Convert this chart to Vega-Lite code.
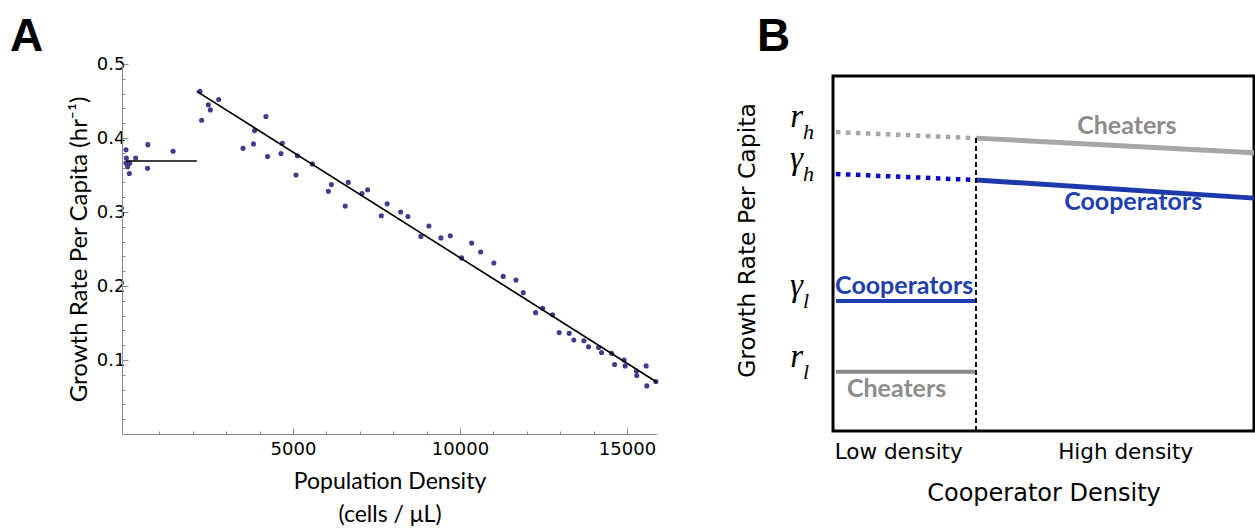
{
  "$schema": "https://vega.github.io/schema/vega-lite/v6.json",
  "background": "white",
  "padding": {"left": 10, "top": 12, "right": 0, "bottom": 0},
  "config": {"view": {"stroke": null}},
  "spacing": 72,
  "datasets": {
    "growth": [
      {"density": 0, "rate": 0.384}, {"density": 10, "rate": 0.373}, {"density": 0, "rate": 0.366},
      {"density": 50, "rate": 0.361}, {"density": 110, "rate": 0.366}, {"density": 100, "rate": 0.352},
      {"density": 290, "rate": 0.373}, {"density": 655, "rate": 0.391}, {"density": 645, "rate": 0.359},
      {"density": 1410, "rate": 0.382},
      {"density": 2215, "rate": 0.463}, {"density": 2265, "rate": 0.424}, {"density": 2465, "rate": 0.445},
      {"density": 2525, "rate": 0.438}, {"density": 2775, "rate": 0.452}, {"density": 3505, "rate": 0.386},
      {"density": 3820, "rate": 0.392}, {"density": 3850, "rate": 0.41}, {"density": 4190, "rate": 0.429},
      {"density": 4240, "rate": 0.375}, {"density": 4640, "rate": 0.379}, {"density": 4680, "rate": 0.393},
      {"density": 5130, "rate": 0.376}, {"density": 5090, "rate": 0.35}, {"density": 5580, "rate": 0.365},
      {"density": 6060, "rate": 0.328}, {"density": 6150, "rate": 0.337}, {"density": 6565, "rate": 0.308},
      {"density": 6655, "rate": 0.34}, {"density": 7065, "rate": 0.325}, {"density": 7235, "rate": 0.33},
      {"density": 7645, "rate": 0.295}, {"density": 7820, "rate": 0.311}, {"density": 8225, "rate": 0.3},
      {"density": 8440, "rate": 0.294}, {"density": 8830, "rate": 0.267}, {"density": 9070, "rate": 0.281},
      {"density": 9430, "rate": 0.265}, {"density": 9710, "rate": 0.268}, {"density": 10050, "rate": 0.238},
      {"density": 10350, "rate": 0.258}, {"density": 10620, "rate": 0.246}, {"density": 11015, "rate": 0.231},
      {"density": 11295, "rate": 0.213}, {"density": 11675, "rate": 0.208}, {"density": 11895, "rate": 0.191},
      {"density": 12265, "rate": 0.164}, {"density": 12475, "rate": 0.17}, {"density": 12775, "rate": 0.161},
      {"density": 12970, "rate": 0.137}, {"density": 13270, "rate": 0.136}, {"density": 13410, "rate": 0.127},
      {"density": 13710, "rate": 0.126}, {"density": 13850, "rate": 0.118}, {"density": 14150, "rate": 0.117},
      {"density": 14240, "rate": 0.11}, {"density": 14540, "rate": 0.109}, {"density": 14630, "rate": 0.094},
      {"density": 14915, "rate": 0.1}, {"density": 14945, "rate": 0.092}, {"density": 15285, "rate": 0.085},
      {"density": 15295, "rate": 0.079}, {"density": 15575, "rate": 0.092}, {"density": 15595, "rate": 0.065},
      {"density": 15865, "rate": 0.071}
    ],
    "fits": [
      {"segment": "low", "density": 0, "rate": 0.369},
      {"segment": "low", "density": 2120, "rate": 0.369},
      {"segment": "high", "density": 2120, "rate": 0.463},
      {"segment": "high", "density": 15900, "rate": 0.07}
    ],
    "schematic": [
      {"segment": "cheaters-dotted", "x": 0.007, "y": 0.842},
      {"segment": "cheaters-dotted", "x": 0.34, "y": 0.825},
      {"segment": "cheaters-high", "x": 0.34, "y": 0.825},
      {"segment": "cheaters-high", "x": 1, "y": 0.784},
      {"segment": "cooperators-dotted", "x": 0.007, "y": 0.724},
      {"segment": "cooperators-dotted", "x": 0.34, "y": 0.707},
      {"segment": "cooperators-high", "x": 0.34, "y": 0.707},
      {"segment": "cooperators-high", "x": 1, "y": 0.656},
      {"segment": "cooperators-low", "x": 0.007, "y": 0.366},
      {"segment": "cooperators-low", "x": 0.34, "y": 0.366},
      {"segment": "cheaters-low", "x": 0.007, "y": 0.167},
      {"segment": "cheaters-low", "x": 0.34, "y": 0.167}
    ],
    "tags": [
      {"label": "Cheaters", "kind": "Cheaters", "x": 0.698, "y": 0.859},
      {"label": "Cooperators", "kind": "Cooperators", "x": 0.713, "y": 0.644},
      {"label": "Cooperators", "kind": "Cooperators", "x": 0.169, "y": 0.409},
      {"label": "Cheaters", "kind": "Cheaters", "x": 0.151, "y": 0.117}
    ],
    "symbols": [
      {"sym": "r", "sub": "h", "level": 0.842},
      {"sym": "γ", "sub": "h", "level": 0.724},
      {"sym": "γ", "sub": "l", "level": 0.366},
      {"sym": "r", "sub": "l", "level": 0.167}
    ]
  },
  "hconcat": [
    {
      "width": 535,
      "height": 358,
      "resolve": {"axis": {"x": "independent", "y": "independent"}},
      "layer": [
        {
          "data": {"name": "growth"},
          "mark": {"type": "circle", "size": 26, "opacity": 1, "color": "#3d3d8c"},
          "encoding": {
            "x": {
              "field": "density", "type": "quantitative",
              "scale": {"domain": [-120, 15900], "nice": false, "zero": false},
              "axis": {
                "orient": "bottom",
                "title": ["Population Density", "(cells / μL)"],
                "values": [5000, 10000, 15000],
                "format": "d",
                "labelOverlap": false,
                "grid": false,
                "domainColor": "#8a8a8a",
                "tickColor": "#8a8a8a",
                "tickSize": -6,
                "labelFont": "DejaVu Sans", "labelFontSize": 18, "labelColor": "black", "labelPadding": 12,
                "labelFlush": false,
                "titleFont": "Lato", "titleFontSize": 23, "titleFontWeight": "normal", "titleColor": "black",
                "titlePadding": 12, "titleLineHeight": 33
              }
            },
            "y": {
              "field": "rate", "type": "quantitative",
              "scale": {"domain": [0, 0.5], "range": [358, -12], "nice": false, "zero": false},
              "axis": {
                "orient": "left",
                "title": "Growth Rate Per Capita (hr⁻¹)",
                "values": [0.1, 0.2, 0.3, 0.4, 0.5],
                "format": ".1f",
                "labelOverlap": false,
                "grid": false,
                "domainColor": "#8a8a8a",
                "tickColor": "#8a8a8a",
                "tickSize": -6,
                "labelFont": "DejaVu Sans", "labelFontSize": 18, "labelColor": "black", "labelPadding": 3,
                "labelFlush": false,
                "titleFont": "Lato", "titleFontSize": 24, "titleFontWeight": "normal", "titleColor": "black",
                "titlePadding": 5
              }
            }
          }
        },
        {
          "data": {"name": "fits"},
          "mark": {"type": "line", "color": "black", "strokeWidth": 1.6},
          "encoding": {
            "x": {
              "field": "density", "type": "quantitative",
              "axis": {
                "orient": "bottom", "title": null, "labels": false, "domain": false, "grid": false,
                "values": [1000, 2000, 3000, 4000, 6000, 7000, 8000, 9000, 11000, 12000, 13000, 14000],
                "tickColor": "#8a8a8a", "tickSize": -3
              }
            },
            "y": {
              "field": "rate", "type": "quantitative",
              "axis": {
                "orient": "left", "title": null, "labels": false, "domain": false, "grid": false,
                "values": [0.02, 0.04, 0.06, 0.08, 0.12, 0.14, 0.16, 0.18, 0.22, 0.24, 0.26, 0.28, 0.32, 0.34, 0.36, 0.38, 0.42, 0.44, 0.46, 0.48],
                "tickColor": "#8a8a8a", "tickSize": -3
              }
            },
            "detail": {"field": "segment"}
          }
        },
        {
          "data": {"values": [{"panel": "A"}]},
          "mark": {"type": "text", "font": "Liberation Sans", "fontWeight": "bold", "fontSize": 46, "align": "left", "baseline": "alphabetic", "dx": -112, "dy": -13, "color": "black"},
          "encoding": {
            "x": {"datum": -120, "type": "quantitative", "axis": null},
            "y": {"datum": 0.5, "type": "quantitative", "axis": null},
            "text": {"field": "panel"}
          }
        }
      ]
    },
    {
      "width": 421,
      "height": 355,
      "view": {"stroke": "black", "strokeWidth": 3},
      "data": {"name": "schematic"},
      "layer": [
        {
          "transform": [{"filter": "datum.segment === 'cheaters-dotted'"}],
          "mark": {"type": "line", "color": "#a6a6a6", "strokeWidth": 4.5, "strokeDash": [4.5, 5.5], "strokeCap": "butt"},
          "encoding": {
            "x": {
              "field": "x", "type": "quantitative",
              "scale": {"domain": [0, 1], "nice": false, "zero": false},
              "axis": {
                "title": "Cooperator Density",
                "values": [0.155, 0.694],
                "labelExpr": "datum.value < 0.5 ? 'Low density' : 'High density'",
                "labelOverlap": false,
                "domain": false, "ticks": false, "grid": false,
                "labelFont": "DejaVu Sans", "labelFontSize": 21.5, "labelColor": "black", "labelPadding": 10,
                "labelFlush": false,
                "titleFont": "DejaVu Sans", "titleFontSize": 24, "titleFontWeight": "normal", "titleColor": "black",
                "titlePadding": 19
              }
            },
            "y": {
              "field": "y", "type": "quantitative",
              "scale": {"domain": [0, 1], "nice": false, "zero": false},
              "axis": {
                "title": "Growth Rate Per Capita",
                "domain": false, "ticks": false, "labels": false, "grid": false,
                "titleFont": "DejaVu Sans", "titleFontSize": 23.5, "titleFontWeight": "normal", "titleColor": "black",
                "titlePadding": 74, "titleY": 164
              }
            }
          }
        },
        {
          "transform": [{"filter": "datum.segment === 'cooperators-dotted'"}],
          "mark": {"type": "line", "color": "#0a0ac8", "strokeWidth": 4.5, "strokeDash": [4.5, 5.5], "strokeCap": "butt"},
          "encoding": {"x": {"field": "x", "type": "quantitative"}, "y": {"field": "y", "type": "quantitative"}}
        },
        {
          "transform": [{"filter": "datum.segment === 'cheaters-high'"}],
          "mark": {"type": "line", "color": "#a6a6a6", "strokeWidth": 5},
          "encoding": {"x": {"field": "x", "type": "quantitative"}, "y": {"field": "y", "type": "quantitative"}}
        },
        {
          "transform": [{"filter": "datum.segment === 'cooperators-high'"}],
          "mark": {"type": "line", "color": "#1c38aa", "strokeWidth": 5},
          "encoding": {"x": {"field": "x", "type": "quantitative"}, "y": {"field": "y", "type": "quantitative"}}
        },
        {
          "transform": [{"filter": "datum.segment === 'cooperators-low'"}],
          "mark": {"type": "line", "color": "#1f3fae", "strokeWidth": 4},
          "encoding": {"x": {"field": "x", "type": "quantitative"}, "y": {"field": "y", "type": "quantitative"}}
        },
        {
          "transform": [{"filter": "datum.segment === 'cheaters-low'"}],
          "mark": {"type": "line", "color": "#8a8a8a", "strokeWidth": 4},
          "encoding": {"x": {"field": "x", "type": "quantitative"}, "y": {"field": "y", "type": "quantitative"}}
        },
        {
          "mark": {"type": "rule", "color": "black", "strokeWidth": 1.5, "strokeDash": [5, 3]},
          "encoding": {
            "x": {"datum": 0.34, "type": "quantitative"},
            "y": {"datum": 0, "type": "quantitative"},
            "y2": {"datum": 0.825}
          }
        },
        {
          "data": {"name": "tags"},
          "mark": {"type": "text", "font": "Lato", "fontWeight": "bold", "fontSize": 25, "align": "center", "baseline": "middle"},
          "encoding": {
            "x": {"field": "x", "type": "quantitative"},
            "y": {"field": "y", "type": "quantitative"},
            "text": {"field": "label"},
            "color": {"field": "kind", "type": "nominal", "scale": {"domain": ["Cheaters", "Cooperators"], "range": ["#8c8c8c", "#1f3fae"]}, "legend": null}
          }
        },
        {
          "data": {"name": "symbols"},
          "mark": {"type": "text", "font": "Liberation Serif", "fontStyle": "italic", "fontSize": 33, "align": "right", "baseline": "alphabetic", "dx": -30, "dy": -5, "color": "black"},
          "encoding": {
            "x": {"datum": 0, "type": "quantitative"},
            "y": {"field": "level", "type": "quantitative"},
            "text": {"field": "sym"}
          }
        },
        {
          "data": {"name": "symbols"},
          "mark": {"type": "text", "font": "Liberation Serif", "fontStyle": "italic", "fontSize": 22, "align": "left", "baseline": "alphabetic", "dx": -30, "dy": 7, "color": "black"},
          "encoding": {
            "x": {"datum": 0, "type": "quantitative"},
            "y": {"field": "level", "type": "quantitative"},
            "text": {"field": "sub"}
          }
        },
        {
          "data": {"values": [{"panel": "B"}]},
          "mark": {"type": "text", "font": "Liberation Sans", "fontWeight": "bold", "fontSize": 46, "align": "left", "baseline": "alphabetic", "dx": -76, "dy": -25, "color": "black"},
          "encoding": {
            "x": {"datum": 0, "type": "quantitative"},
            "y": {"datum": 1, "type": "quantitative"},
            "text": {"field": "panel"}
          }
        }
      ]
    }
  ]
}
